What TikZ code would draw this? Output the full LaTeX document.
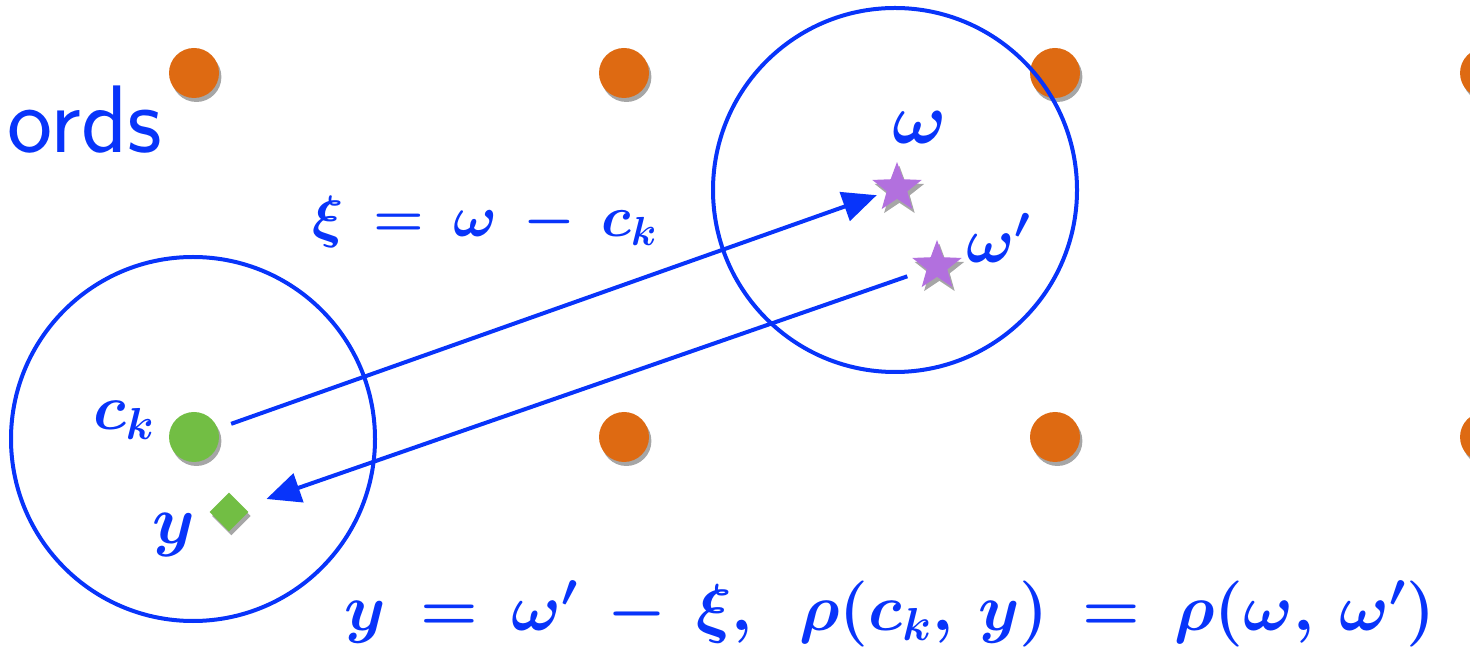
\RequirePackage{fix-cm}
\documentclass[tikz,border=0pt]{standalone}
\usepackage{amsmath, amssymb}
\usepackage{tikz}
\usetikzlibrary{positioning,arrows.meta,shapes.geometric,shadows}
\definecolor{penblue}{RGB}{8,52,250}
\definecolor{dotorange}{RGB}{222,106,18}
\definecolor{dotgreen}{RGB}{114,190,68}
\definecolor{starpurple}{RGB}{178,112,222}
\tikzset{
  flowarrow/.style={-{Triangle[length=17pt, width=15pt]}, draw=penblue, line width=2pt},
  softshadow/.style={drop shadow={shadow xshift=1.2pt, shadow yshift=-2pt, opacity=0.35, fill=black}},
  latticedot/.style={circle, fill=dotorange, minimum size=25pt, inner sep=0pt, softshadow},
  centerdot/.style={circle, fill=dotgreen, minimum size=25pt, inner sep=0pt, softshadow},
  codeword/.style={star, star points=5, star point ratio=2.4, fill=starpurple, minimum size=26pt, inner sep=0pt, softshadow},
  outdot/.style={diamond, fill=dotgreen, minimum size=19.5pt, inner sep=0pt, softshadow},
  ball/.style={circle, draw=penblue, line width=2pt, minimum size=182pt, inner sep=0pt},
  handlabel/.style={text=penblue, inner sep=0pt, font=\fontsize{32}{38}\selectfont\boldmath}
}

\begin{document}
\begin{tikzpicture}[x=0.5pt, y=-0.5pt]
  \clip (0,0) rectangle (1470,656);
  % lattice of code points
  \node[latticedot] (p1) at (194,73) {};
  \node[latticedot] (p2) at (624,73) {};
  \node[latticedot] (p3) at (1055,73) {};
  \node[latticedot] (p4) at (1485,73) {};
  \node[latticedot] (p6) at (624,437) {};
  \node[latticedot] (p7) at (1055,437) {};
  \node[latticedot] (p8) at (1485,437) {};
  \node[centerdot] (ck) at (194,437) {};
  \node[outdot] (y) at (229,512) {};
  \node[codeword] (w) at (897,188) {};
  \node[codeword] (wp) at (937,266) {};
  % balls
  \node[ball] (ballck) at (193,439) {};
  \node[ball] (ballw) at (895,190) {};
  % labels
  \node[handlabel, font=\fontsize{48}{54}\selectfont\sffamily] (words) at (85,120) {ords};
  \node[handlabel] (lck) at (124,420) {$c_k$};
  \node[handlabel, font=\fontsize{34}{40}\selectfont\boldmath] (ly) at (174,535) {$y$};
  \node[handlabel, font=\fontsize{36}{42}\selectfont\boldmath] (lw) at (920,128) {$\omega$};
  \node[handlabel] (lwp) at (999,238) {$\omega'$};
  \node[handlabel, font=\fontsize{29}{34}\selectfont\boldmath] (xi) at (485,222) {$\xi \,=\, \omega \,-\, c_k$};
  \node[handlabel, font=\fontsize{33}{40}\selectfont\boldmath] (rule) at (890,614)
    {$y \,=\, \omega' \,-\, \xi,\;\, \rho(c_k,\, y) \,=\, \rho(\omega,\, \omega')$};
  % shift and shift back
  \draw[flowarrow, shorten <=7pt, shorten >=5pt] (ck) -- (w);
  \draw[flowarrow, shorten <=10pt, shorten >=12pt] (wp) -- (y);
\end{tikzpicture}
\end{document}
